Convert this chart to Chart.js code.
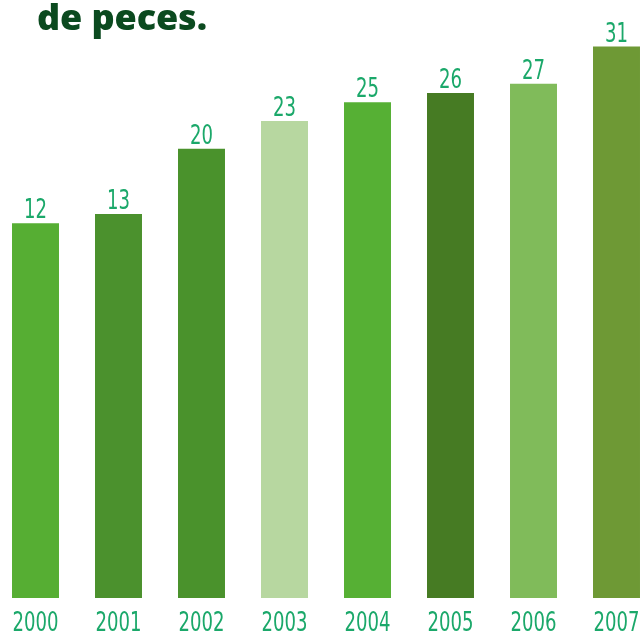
<!DOCTYPE html>
<html>
<head>
<meta charset="utf-8">
<script src="https://cdn.jsdelivr.net/npm/chart.js@4/dist/chart.umd.min.js"></script>
<style>
  html, body { margin:0; padding:0; width:643px; height:633px; overflow:hidden; background:#fff; }
  #title { position:absolute; left:37px; top:-8px; margin:0; font-family:"Open Sans", sans-serif; font-weight:800; font-size:36px; line-height:50px; color:#0b4a1f; letter-spacing:-0.1px; z-index:2; }
  #wrap { position:absolute; left:-6px; top:0; width:664px; height:633px; }
</style>
</head>
<body>
<h1 id="title">de peces.</h1>
<div id="wrap"><canvas id="c"></canvas></div>
<script>
const years = ["2000","2001","2002","2003","2004","2005","2006","2007"];
const values = [12, 13, 20, 23, 25, 26, 27, 31];
const barColors = ["#56ae33","#4b912d","#4a922c","#b7d7a0","#56b034","#467b23","#80bb5a","#6e9935"];
const labelColor = "#1ba86a";
const labelFont = "'Liberation Sans Narrow', 'DejaVu Sans Condensed', sans-serif";
const axisMin = -28.3, axisMax = 36;

function drawNarrow(ctx, text, x, y, targetW4) {
  const w = ctx.measureText("2000").width;
  const s = targetW4 / w;
  ctx.save();
  ctx.translate(x, y);
  ctx.scale(s, 1);
  ctx.fillText(text, 0, 0);
  ctx.restore();
}

const textLabels = {
  id: 'textLabels',
  afterDatasetsDraw(chart) {
    const ctx = chart.ctx;
    const meta = chart.getDatasetMeta(0);
    const xs = chart.scales.x;
    ctx.save();
    ctx.fillStyle = labelColor;
    ctx.font = "27px " + labelFont;
    ctx.textAlign = 'center';
    ctx.textBaseline = 'alphabetic';
    meta.data.forEach((bar, i) => {
      drawNarrow(ctx, String(values[i]), bar.x, bar.y - 5, 46);
    });
    years.forEach((y, i) => {
      drawNarrow(ctx, y, xs.getPixelForTick(i), chart.chartArea.bottom + 33, 46);
    });
    ctx.restore();
  }
};

new Chart(document.getElementById('c'), {
  type: 'bar',
  data: {
    labels: years,
    datasets: [{
      data: values,
      backgroundColor: barColors,
      borderWidth: 0,
      base: axisMin,
      categoryPercentage: 1,
      barPercentage: 0.566
    }]
  },
  options: {
    responsive: true,
    maintainAspectRatio: false,
    animation: false,
    layout: { padding: { top: 0, bottom: 35, left: 0, right: 0 } },
    plugins: { legend: { display: false }, tooltip: { enabled: false } },
    scales: {
      x: { display: false },
      y: { display: false, min: axisMin, max: axisMax }
    }
  },
  plugins: [textLabels]
});
</script>
</body>
</html>
